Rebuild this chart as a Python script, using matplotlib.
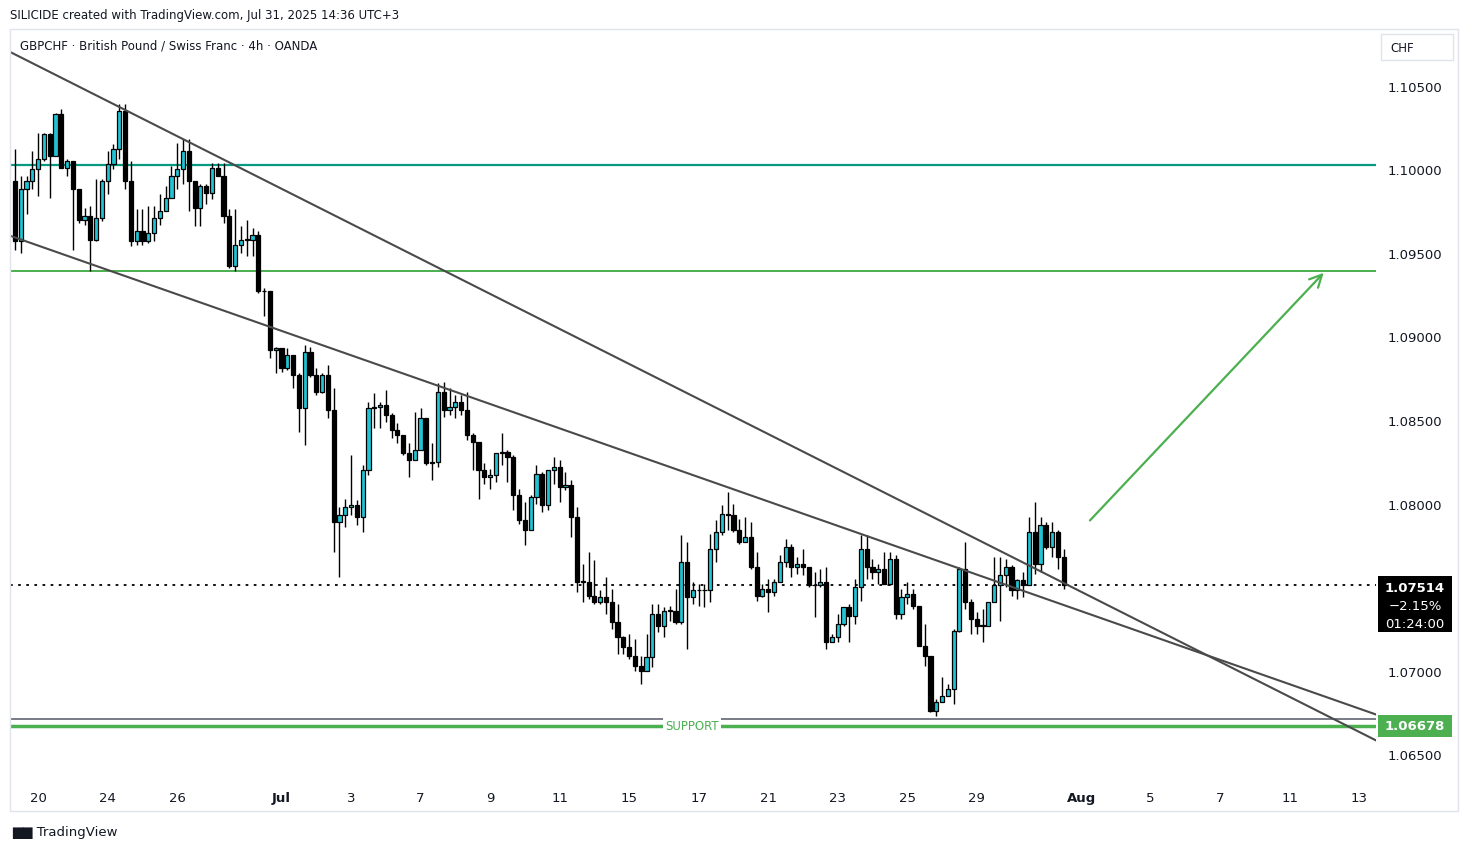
import numpy as np
import matplotlib
matplotlib.use("Agg")
import matplotlib.pyplot as plt
from matplotlib.patches import Rectangle

first_open = 1.0993
close = [1.0957,1.0988,1.0993,1.1000,1.1006,1.1021,1.1008,1.1033,1.1001,1.1005,
 1.0988,1.0970,1.0972,1.0958,1.0971,1.0993,1.1003,1.1012,1.1035,1.0993,
 1.0957,1.0963,1.0957,1.0962,1.0971,1.0975,1.0983,1.0996,1.1000,1.1011,
 1.0993,1.0977,1.0990,1.0986,1.1001,1.0996,1.0972,1.0942,1.0955,1.0958,
 1.0958,1.0961,1.0927,1.0927,1.0892,1.0893,1.0881,1.0889,1.0877,1.0857,
 1.0891,1.0877,1.0867,1.0877,1.0856,1.0789,1.0793,1.0798,1.0799,1.0792,
 1.0820,1.0857,1.0858,1.0859,1.0853,1.0844,1.0841,1.0830,1.0826,1.0832,
 1.0851,1.0824,1.0825,1.0867,1.0856,1.0858,1.0861,1.0856,1.0841,1.0837,
 1.0820,1.0816,1.0817,1.0830,1.0831,1.0828,1.0805,1.0790,1.0784,1.0804,
 1.0818,1.0799,1.0820,1.0822,1.0810,1.0811,1.0792,1.0753,1.0753,1.0745,
 1.0741,1.0744,1.0741,1.0729,1.0720,1.0714,1.0709,1.0703,1.0700,1.0708,
 1.0734,1.0727,1.0736,1.0736,1.0729,1.0765,1.0744,1.0748,1.0748,1.0748,
 1.0773,1.0783,1.0794,1.0793,1.0784,1.0777,1.0780,1.0762,1.0745,1.0749,
 1.0747,1.0753,1.0765,1.0774,1.0762,1.0764,1.0762,1.0751,1.0751,1.0753,
 1.0717,1.0720,1.0728,1.0738,1.0733,1.0750,1.0773,1.0762,1.0759,1.0761,
 1.0752,1.0767,1.0734,1.0744,1.0746,1.0739,1.0715,1.0709,1.0676,1.0681,
 1.0685,1.0689,1.0724,1.0761,1.0741,1.0731,1.0727,1.0727,1.0741,1.0751,
 1.0757,1.0762,1.0748,1.0754,1.0751,1.0783,1.0764,1.0787,1.0774,1.0783,
 1.0768,1.07514]
high = [1.1012,1.0996,1.0996,1.1011,1.1022,1.1022,1.1022,1.1034,1.1036,1.1006,
 1.0992,1.0988,1.0977,1.0978,1.0994,1.0994,1.1011,1.1015,1.1039,1.1039,
 1.1005,1.0976,1.0976,1.0978,1.0978,1.0985,1.0990,1.1002,1.1016,1.1018,
 1.1018,1.0993,1.0991,1.0991,1.1004,1.1004,1.1004,1.0976,1.0976,1.0966,
 1.0970,1.0965,1.0963,1.0929,1.0927,1.0894,1.0893,1.0893,1.0889,1.0878,
 1.0895,1.0894,1.0881,1.0878,1.0883,1.0869,1.0798,1.0803,1.0829,1.0802,
 1.0823,1.0861,1.0866,1.0861,1.0868,1.0854,1.0848,1.0841,1.0836,1.0855,
 1.0857,1.0836,1.0836,1.0872,1.0873,1.0869,1.0865,1.0865,1.0867,1.0842,
 1.0837,1.0824,1.0821,1.0830,1.0842,1.0832,1.0829,1.0809,1.0801,1.0805,
 1.0823,1.0819,1.0820,1.0828,1.0826,1.0819,1.0814,1.0798,1.0764,1.0771,
 1.0766,1.0748,1.0756,1.0749,1.0740,1.0721,1.0722,1.0719,1.0709,1.0722,
 1.0740,1.0740,1.0738,1.0739,1.0749,1.0781,1.0777,1.0753,1.0752,1.0752,
 1.0782,1.0790,1.0799,1.0807,1.0800,1.0791,1.0792,1.0789,1.0771,1.0752,
 1.0755,1.0755,1.0769,1.0779,1.0776,1.0768,1.0773,1.0761,1.0759,1.0761,
 1.0762,1.0722,1.0734,1.0738,1.0740,1.0755,1.0781,1.0781,1.0767,1.0764,
 1.0771,1.0771,1.0769,1.0749,1.0753,1.0749,1.0728,1.0728,1.0709,1.0683,
 1.0696,1.0692,1.0725,1.0762,1.0777,1.0743,1.0735,1.0737,1.0741,1.0768,
 1.0768,1.0767,1.0763,1.0755,1.0759,1.0792,1.0801,1.0792,1.0789,1.0789,
 1.0784,1.0773]
low = [1.0952,1.0950,1.0973,1.0988,1.0984,1.1005,1.0983,1.1008,1.1001,1.0996,
 1.0952,1.0968,1.0967,1.0939,1.0957,1.0969,1.0985,1.1000,1.1006,1.0988,
 1.0954,1.0955,1.0955,1.0956,1.0957,1.0967,1.0975,1.0983,1.0988,1.0991,
 1.0975,1.0966,1.0966,1.0979,1.0982,1.0996,1.0968,1.0941,1.0939,1.0950,
 1.0948,1.0948,1.0926,1.0912,1.0887,1.0878,1.0879,1.0880,1.0869,1.0843,
 1.0835,1.0876,1.0865,1.0866,1.0851,1.0771,1.0756,1.0786,1.0793,1.0787,
 1.0783,1.0817,1.0845,1.0845,1.0849,1.0839,1.0836,1.0829,1.0816,1.0827,
 1.0834,1.0823,1.0814,1.0822,1.0852,1.0853,1.0851,1.0853,1.0838,1.0820,
 1.0803,1.0812,1.0809,1.0813,1.0823,1.0813,1.0796,1.0788,1.0775,1.0787,
 1.0800,1.0795,1.0796,1.0812,1.0801,1.0808,1.0780,1.0747,1.0741,1.0743,
 1.0740,1.0740,1.0734,1.0725,1.0710,1.0710,1.0707,1.0700,1.0692,1.0700,
 1.0702,1.0723,1.0720,1.0730,1.0728,1.0728,1.0713,1.0740,1.0739,1.0738,
 1.0741,1.0765,1.0781,1.0784,1.0783,1.0776,1.0777,1.0761,1.0742,1.0744,
 1.0735,1.0745,1.0753,1.0762,1.0756,1.0758,1.0757,1.0750,1.0732,1.0750,
 1.0713,1.0717,1.0717,1.0727,1.0717,1.0728,1.0742,1.0755,1.0755,1.0752,
 1.0752,1.0751,1.0731,1.0731,1.0740,1.0737,1.0715,1.0703,1.0675,1.0673,
 1.0683,1.0685,1.0680,1.0723,1.0737,1.0722,1.0722,1.0717,1.0728,1.0742,
 1.0730,1.0750,1.0745,1.0743,1.0744,1.0751,1.0758,1.0759,1.0773,1.0768,
 1.0761,1.0749]

tick_dates = ["2025-06-20","2025-06-24","2025-06-26","2025-07-01","2025-07-03","2025-07-07",
              "2025-07-09","2025-07-11","2025-07-15","2025-07-17","2025-07-21","2025-07-23",
              "2025-07-25","2025-07-29","2025-08-01","2025-08-05","2025-08-07","2025-08-11","2025-08-13"]
tick_labels = ["20","24","26","Jul","3","7","9","11","15","17","21","23","25","29","Aug","5","7","11","13"]
price_ticks = [1.065,1.070,1.080,1.085,1.090,1.095,1.100,1.105]

resistance_1 = 1.10027
resistance_2 = 1.09393
support_grey = 1.06712
support = 1.06672
upper_trend = (-0.86, 1.10703, 234.9, 1.06583)
lower_trend = (-0.86, 1.09603, 234.9, 1.06738)
arrow_from = (185.2, 1.07887)
arrow_to = (226.2, 1.09393)
last_price = 1.07514

W, H = 1468, 853
fig = plt.figure(figsize=(W/100, H/100), dpi=100)
ax = fig.add_axes([10/W, 1-782/H, (1376-10)/W, (782-30)/H])

c = np.array(close); hi = np.array(high); lo = np.array(low)
o = np.concatenate([[first_open], c[:-1]])
x = np.arange(len(c))
up = c >= o
hi2 = np.maximum(hi, np.maximum(o, c)); lo2 = np.minimum(lo, np.minimum(o, c))
ax.vlines(x, lo2, hi2, color="black", lw=1, zorder=3)
bot = np.minimum(o, c); ht = np.maximum(np.abs(c - o), 0.00004)
ax.bar(x, ht, bottom=bot, width=0.72, color=np.where(up, "#22c3d4", "black"),
       edgecolor="black", linewidth=0.9, zorder=4)

xmin, xmax = -0.86, 234.9
ax.set_xlim(xmin, xmax)
ax.set_ylim(1.0634, 1.1084)
ax.axhline(resistance_1, color="#089981", lw=1.6, zorder=2)
ax.axhline(resistance_2, color="#4caf50", lw=1.4, zorder=2)
ax.axhline(support_grey, color="#787b86", lw=1.4, zorder=2)
ax.axhline(support, color="#4caf50", lw=2.5, zorder=2)
ax.axhline(last_price, color="black", lw=1.3, ls=(0, (1.5, 3)), zorder=2)
for t in (upper_trend, lower_trend):
    ax.plot([t[0], t[2]], [t[1], t[3]], color="#4a4a4a", lw=1.5, zorder=5)
ax.annotate("", xy=arrow_to, xytext=arrow_from,
            arrowprops=dict(arrowstyle="->", color="#4caf50", lw=1.6, mutation_scale=22))
ax.text(116.8, support, "SUPPORT", color="#4caf50", fontsize=8.5, ha="center", va="center",
        bbox=dict(facecolor="white", edgecolor="none", pad=1.5), zorder=6)

pos = [4 + 6*int(np.busday_count("2025-06-20", d)) for d in tick_dates]
ax.set_xticks(pos)
ax.set_xticklabels(tick_labels)
for lbl, t in zip(ax.get_xticklabels(), tick_labels):
    if t in ("Jul", "Aug"):
        lbl.set_fontweight("bold")
ax.yaxis.tick_right()
ax.set_yticks(price_ticks)
ax.set_yticklabels([f"{p:.5f}" for p in price_ticks])
ax.tick_params(axis="both", length=0, labelsize=9.5, colors="#131722")
ax.tick_params(axis="x", pad=7)
ax.tick_params(axis="y", pad=8)
for s in ax.spines.values():
    s.set_visible(False)

fig.patches.append(Rectangle((10/W, 1-812/H), 1448/W, 782/H, transform=fig.transFigure,
                             fill=False, edgecolor="#e0e3eb", lw=1))
fig.patches.append(Rectangle((1378/W, 1-633/H), 74/W, 56/H, transform=fig.transFigure,
                             facecolor="black", edgecolor="none"))
fig.text(1415/W, 1-588/H, f"{last_price:.5f}", color="white", fontsize=9.5, fontweight="bold", ha="center", va="center")
fig.text(1415/W, 1-606/H, "\u22122.15%", color="white", fontsize=9.5, ha="center", va="center")
fig.text(1415/W, 1-624/H, "01:24:00", color="white", fontsize=9.5, ha="center", va="center")
fig.patches.append(Rectangle((1378/W, 1-738/H), 74/W, 22/H, transform=fig.transFigure,
                             facecolor="#4caf50", edgecolor="none"))
fig.text(1415/W, 1-727/H, "1.06678", color="white", fontsize=9.5, fontweight="bold", ha="center", va="center")
fig.patches.append(Rectangle((1381/W, 1-61/H), 72/W, 26/H, transform=fig.transFigure,
                             fill=False, edgecolor="#e0e3eb", lw=1))
fig.text(1390/W, 1-48/H, "CHF", color="#131722", fontsize=8.5, ha="left", va="center")

fig.text(10/W, 1-16/H, "SILICIDE created with TradingView.com, Jul 31, 2025 14:36 UTC+3",
         fontsize=8.5, color="#131722", va="center")
fig.text(20/W, 1-46/H, "GBPCHF \u00b7 British Pound / Swiss Franc \u00b7 4h \u00b7 OANDA",
         fontsize=8.5, color="#131722", va="center")
fig.text(12/W, 1-833/H, "\u2587\u2587 TradingView", fontsize=9.5, color="#131722", va="center")

fig.savefig("out.png", dpi=100)
